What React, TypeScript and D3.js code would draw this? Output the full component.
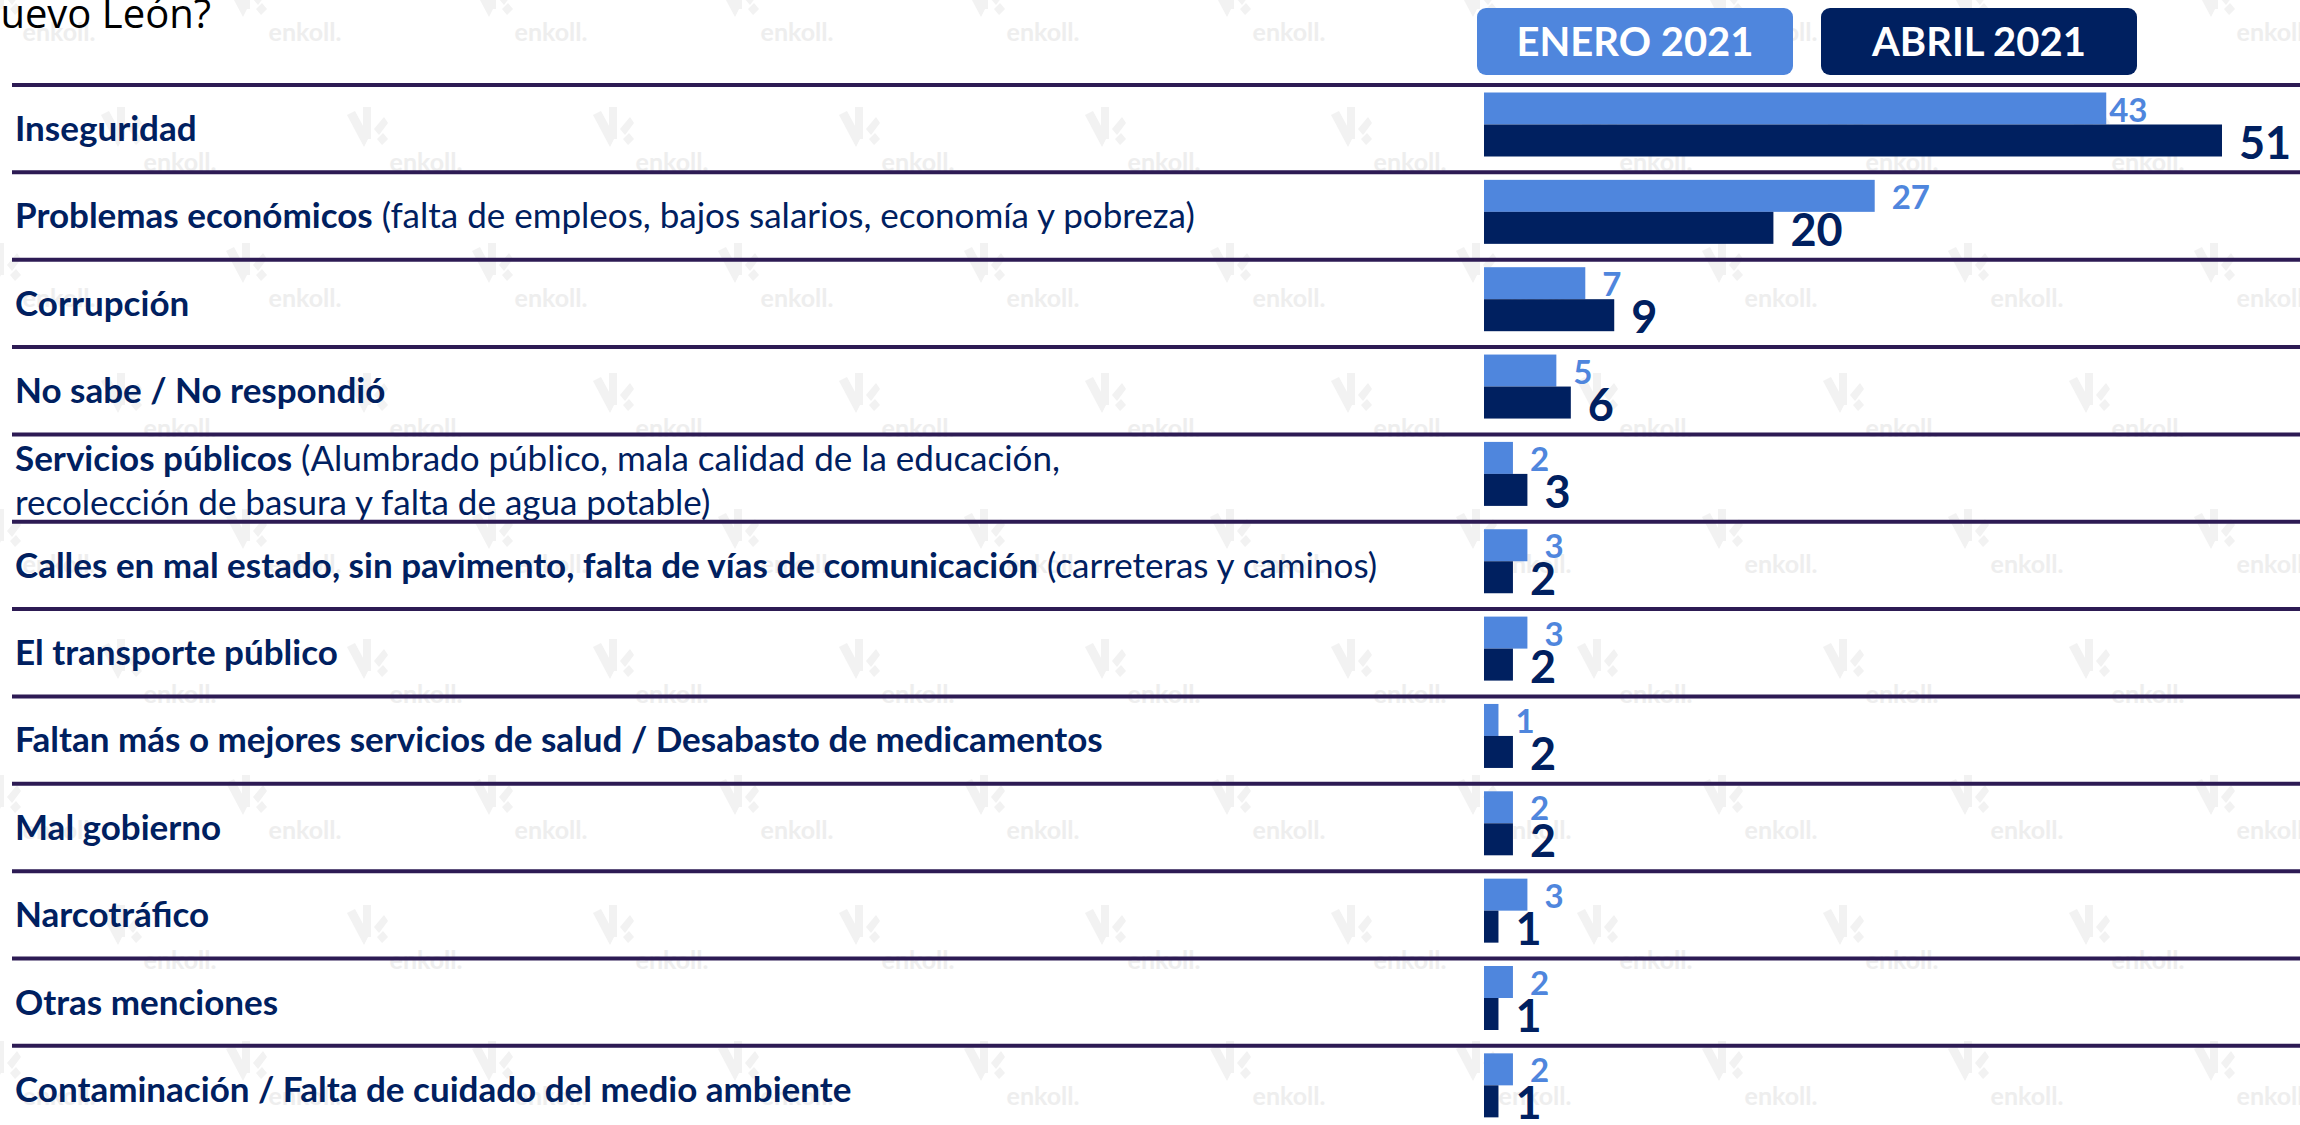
import * as d3 from "d3";

// Survey data: "¿Cuál es el principal problema de Nuevo León?"
const categories = [
  "Inseguridad",
  "Problemas económicos",
  "Corrupción",
  "No sabe / No respondió",
  "Servicios públicos",
  "Calles en mal estado, sin pavimento, falta de vías de comunicación",
  "El transporte público",
  "Faltan más o mejores servicios de salud / Desabasto de medicamentos",
  "Mal gobierno",
  "Narcotráfico",
  "Otras menciones",
  "Contaminación / Falta de cuidado del medio ambiente",
];

const details = [
  "",
  "(falta de empleos, bajos salarios, economía y pobreza)",
  "",
  "",
  "(Alumbrado público, mala calidad de la educación,\nrecolección de basura y falta de agua potable)",
  "(carreteras y caminos)",
  "",
  "",
  "",
  "",
  "",
  "",
];

const enero = [43, 27, 7, 5, 2, 3, 3, 1, 2, 3, 2, 2];
const abril = [51, 20, 9, 6, 3, 2, 2, 2, 2, 1, 1, 1];

const seriesNames = ["ENERO 2021", "ABRIL 2021"];
const titleText = "uevo León?";

const LIGHT = "#4F86DD";
const NAVY = "#002060";
const RULE = "#2D1B54";
const FONT = "Lato, 'Open Sans', sans-serif";

const width = 2300;
const height = 1125;

const App = () => {
  const rowTop = 85;
  const rowH = 87.35;

  const yScale = d3
    .scaleBand()
    .domain(categories)
    .range([rowTop, rowTop + rowH * categories.length]);

  // two bars stacked inside each row
  const inner = d3.scaleBand().domain(seriesNames).range([7.5, 71.5]);

  const xScale = d3.scaleLinear().domain([0, 51]).range([1484, 2222]);

  const color = d3.scaleOrdinal<string, string>().domain(seriesNames).range([LIGHT, NAVY]);

  // watermark grid
  const marks: { x: number; y: number }[] = [];
  for (let m = 0; m < 5; m++) {
    for (let k = -1; k < 10; k++) {
      marks.push({ x: 246 + 246 * k, y: -3 + 266 * m });
      marks.push({ x: 367 + 246 * k, y: 127 + 266 * m });
    }
  }

  const legendX = [1477, 1821];

  return (
    <svg
      width={width}
      height={height}
      style={{ position: "absolute", left: 0, top: 0, background: "#fff" }}
      fontFamily={FONT}
    >
      <rect width={width} height={height} fill="#fff" />

      {/* watermark */}
      <g>
        {marks.map((d, i) => (
          <g key={i} transform={`translate(${d.x},${d.y})`}>
            <path
              d="M-20,-12 L-12,-16 L2,10 L-3,20 Z M-4,-20 L4,-20 L4,12 L-4,12 Z M7,2 L17,-10 L21,-4 L12,8 Z M10,12 L16,6 L21,12 L15,18 Z"
              fill="#F2F2F2"
            />
            <text
              x={59}
              y={35}
              dy="0.35em"
              textAnchor="middle"
              fontSize={25}
              fontWeight={700}
              fill="#EEEEEE"
            >
              enkoll.
            </text>
          </g>
        ))}
      </g>

      {/* title fragment */}
      <text
        x={211}
        y={28}
        textAnchor="end"
        fontSize={40}
        fontFamily="'Open Sans', sans-serif"
        fill="#000"
      >
        {titleText}
      </text>

      {/* legend */}
      {seriesNames.map((s, i) => (
        <g key={s} transform={`translate(${legendX[i]},8)`}>
          <rect width={316} height={67} rx={9} fill={color(s)} />
          <text
            x={158}
            y={48}
            textAnchor="middle"
            fontSize={40}
            fontWeight={700}
            fill="#fff"
          >
            {s}
          </text>
        </g>
      ))}

      {/* rows */}
      {categories.map((cat, i) => {
        const y0 = yScale(cat)!;
        const lines = details[i] ? details[i].split("\n") : [];
        const twoLine = lines.length > 1;
        const vals = [enero[i], abril[i]];
        return (
          <g key={cat}>
            <line x1={12} x2={width} y1={y0} y2={y0} stroke={RULE} strokeWidth={4} />
            <text x={15} y={y0 + (twoLine ? 37 : 56)} fontSize={35} fill={NAVY}>
              <tspan fontWeight={700}>{cat}</tspan>
              {lines[0] && <tspan fontWeight={400}>{" " + lines[0]}</tspan>}
            </text>
            {twoLine && (
              <text x={15} y={y0 + 81} fontSize={35} fill={NAVY}>
                {lines[1]}
              </text>
            )}
            {seriesNames.map((s, j) => {
              const by = y0 + inner(s)!;
              const bh = inner.bandwidth();
              const x1 = xScale(vals[j]);
              // the top enero label sits tight against its bar
              const gap = j === 0 && vals[j] > 40 ? 3 : 17;
              return (
                <g key={s}>
                  <rect
                    x={xScale(0)}
                    y={by}
                    width={x1 - xScale(0)}
                    height={bh}
                    fill={color(s)}
                  />
                  <text
                    x={x1 + gap}
                    y={j === 0 ? by + bh - 3 : by + bh + 2}
                    fontSize={j === 0 ? 33 : 45}
                    fontWeight={700}
                    fill={color(s)}
                  >
                    {vals[j]}
                  </text>
                </g>
              );
            })}
          </g>
        );
      })}
    </svg>
  );
};

export default App;
